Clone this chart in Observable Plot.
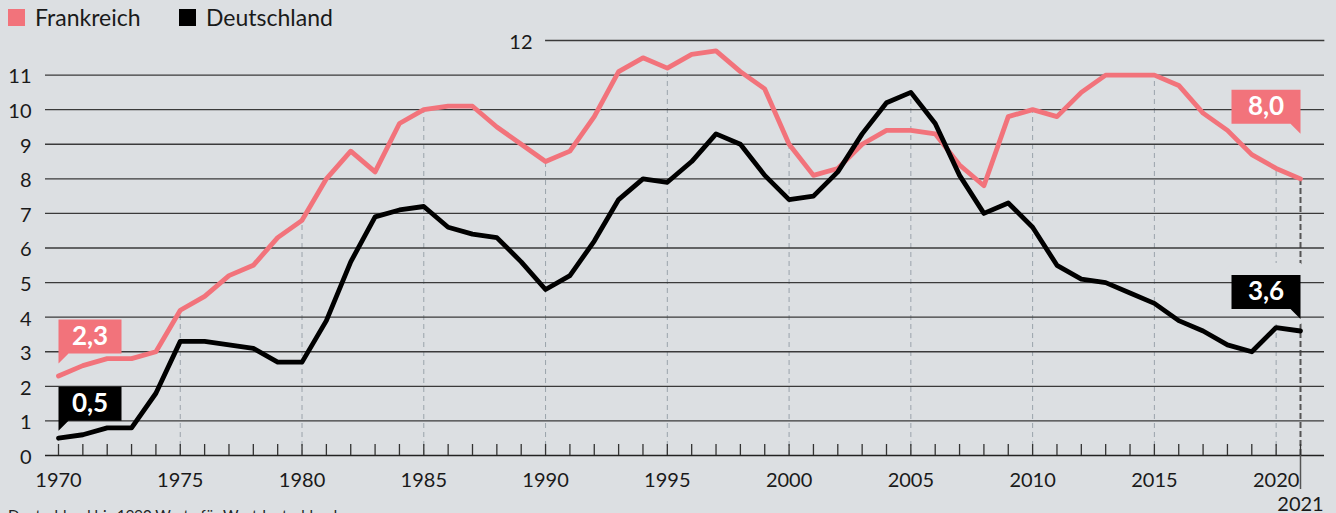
<!DOCTYPE html>
<html><head><meta charset="utf-8">
<script src="https://cdn.jsdelivr.net/npm/d3@7"></script>
<script src="https://cdn.jsdelivr.net/npm/@observablehq/plot@0.6"></script>
<style>
html,body{margin:0;padding:0;background:#dcdfe2;width:1336px;height:513px;overflow:hidden;font-family:Lato,sans-serif;}
#chart{position:absolute;left:0;top:0;}
#legend{position:absolute;top:0;left:0;height:34px;font-size:23px;color:#1a1a1a;}
.item{position:absolute;top:6px;line-height:23px;white-space:nowrap;}
.sw{position:absolute;width:17px;height:17px;top:9px;}
.caption{position:absolute;left:8px;top:508px;font-size:15px;line-height:15px;color:#222;white-space:nowrap;}
</style></head>
<body>
<div id="chart"></div>
<div id="legend"></div>
<div class="caption">Deutschland bis 1990 Werte für Westdeutschland</div>
<script>
// ---- data ----
const years = [1970,1971,1972,1973,1974,1975,1976,1977,1978,1979,
               1980,1981,1982,1983,1984,1985,1986,1987,1988,1989,
               1990,1991,1992,1993,1994,1995,1996,1997,1998,1999,
               2000,2001,2002,2003,2004,2005,2006,2007,2008,2009,
               2010,2011,2012,2013,2014,2015,2016,2017,2018,2019,
               2020,2021];
const france = [2.3,2.6,2.8,2.8,3.0,4.2,4.6,5.2,5.5,6.3,
                6.8,8.0,8.8,8.2,9.6,10.0,10.1,10.1,9.5,9.0,
                8.5,8.8,9.8,11.1,11.5,11.2,11.6,11.7,11.1,10.6,
                9.0,8.1,8.3,9.0,9.4,9.4,9.3,8.4,7.8,9.8,
                10.0,9.8,10.5,11.0,11.0,11.0,10.7,9.9,9.4,8.7,
                8.3,8.0];
const germany = [0.5,0.6,0.8,0.8,1.8,3.3,3.3,3.2,3.1,2.7,
                 2.7,3.9,5.6,6.9,7.1,7.2,6.6,6.4,6.3,5.6,
                 4.8,5.2,6.2,7.4,8.0,7.9,8.5,9.3,9.0,8.1,
                 7.4,7.5,8.2,9.3,10.2,10.5,9.6,8.1,7.0,7.3,
                 6.6,5.5,5.1,5.0,4.7,4.4,3.9,3.6,3.2,3.0,
                 3.7,3.6];
const seriesNames = ["Frankreich", "Deutschland"];
const seriesColors = ["#f2737b", "#000000"];
const yTicks = [0,1,2,3,4,5,6,7,8,9,10,11];
const yTopTick = 12;
const xLabelTicks = [1970,1975,1980,1985,1990,1995,2000,2005,2010,2015,2020];
const lastYearTick = 2021;
const topGridStartYear = 1990;
const gridEndYear = 2022;

// ---- table ----
const rows = years.map((year, i) => ({year, fr: france[i], de: germany[i]}));
const first = rows[0], last = rows[rows.length - 1];
const fmt = v => v.toFixed(1).replace(".", ",");
const bg = "#dcdfe2";

// legend (HTML)
const legend = document.getElementById("legend");
const legendX = [[8, 35], [179, 206]];
seriesNames.forEach((name, i) => {
  const sw = document.createElement("div");
  sw.className = "sw"; sw.style.left = legendX[i][0] + "px"; sw.style.background = seriesColors[i];
  const t = document.createElement("div");
  t.className = "item"; t.style.left = legendX[i][1] + "px"; t.textContent = name;
  legend.appendChild(sw); legend.appendChild(t);
});

// callout shape (box with pointer at its lower corner), origin = pointer tip
function callout(w, h, side) {
  return {draw(ctx) {
    const m = 10;
    ctx.moveTo(0, 0);
    ctx.lineTo(side * m, -m);
    ctx.lineTo(side * w, -m);
    ctx.lineTo(side * w, -m - h);
    ctx.lineTo(0, -m - h);
    ctx.closePath();
  }};
}
function label(datum, key, color, side, w, tipOffset, halo) {
  const h = 34;
  const out = [];
  if (halo) out.push(Plot.dot([datum], {x: "year", y: key, symbol: callout(w, h, side), fill: bg, stroke: bg, strokeWidth: 24, strokeLinejoin: "bevel", dy: -tipOffset}));
  out.push(Plot.dot([datum], {x: "year", y: key, symbol: callout(w, h, side), fill: color, stroke: "none", dy: -tipOffset}));
  out.push(Plot.text([datum], {x: "year", y: key, text: d => fmt(d[key]), fill: "white", fontWeight: "bold", fontSize: 26,
    textAnchor: "middle", lineAnchor: "middle", dx: side * w / 2, dy: -tipOffset - 10 - h / 2}));
  return out;
}
const fiveYearRows = rows.filter(d => xLabelTicks.includes(d.year) && d.year !== years[0]);

const chart = Plot.plot({
  width: 1336, height: 513,
  marginLeft: 45, marginRight: 12, marginTop: 30, marginBottom: 58,
  x: {domain: [years[0], lastYearTick], range: [58, 1300]},
  y: {domain: [0, yTopTick], range: [455, 40]},
  style: {background: "transparent", fontFamily: "Lato, sans-serif", overflow: "visible", color: "#1a1a1a"},
  marks: [
    Plot.ruleX(fiveYearRows, {x: "year", y1: 0, y2: d => Math.max(d.fr, d.de), stroke: "#9aa3ab", strokeWidth: 1, strokeDasharray: "5,4"}),
    Plot.ruleX([last], {x: "year", y1: 0, y2: "fr", stroke: "#555", strokeWidth: 2, strokeDasharray: "6,3"}),
    ...label(last, "de", seriesColors[1], -1, 69, 12, true).slice(0, 1),
    Plot.ruleY(yTicks.slice(1), {stroke: "#3a3a3a", strokeWidth: 1.3}),
    Plot.ruleY([yTopTick], {x1: topGridStartYear, x2: gridEndYear, stroke: "#3a3a3a", strokeWidth: 1.3}),
    Plot.text([yTopTick], {x: topGridStartYear, y: d => d, text: d => String(d), textAnchor: "end", dx: -13, dy: 2, fontSize: 20, fill: "#1a1a1a"}),
    Plot.ruleY([0], {stroke: "#222", strokeWidth: 1.6}),
    Plot.axisX({ticks: years, tickSize: 11, dy: -11, fill: "none", stroke: "#333", strokeWidth: 1.3}),
    Plot.axisX({ticks: [lastYearTick], tickSize: 34, fill: "none", stroke: "#555", strokeWidth: 1.5}),
    Plot.axisX({ticks: xLabelTicks, tickSize: 0, tickPadding: 17, tickFormat: "d", fontSize: 20, fill: "#1a1a1a", label: null}),
    Plot.axisX({ticks: [lastYearTick], tickSize: 0, tickPadding: 41, tickFormat: "d", fontSize: 20, fill: "#1a1a1a", label: null}),
    Plot.axisY({ticks: yTicks, tickSize: 0, tickPadding: 14, tickFormat: "d", fontSize: 20, fill: "#1a1a1a", label: null, dy: 2}),
    Plot.line(rows, {x: "year", y: "fr", stroke: seriesColors[0], strokeWidth: 4.8}),
    Plot.line(rows, {x: "year", y: "de", stroke: seriesColors[1], strokeWidth: 4.8}),
    ...label(first, "fr", seriesColors[0], 1, 63, 12.5, false),
    ...label(first, "de", seriesColors[1], 1, 63, 7.5, false),
    ...label(last, "fr", seriesColors[0], -1, 69, 45, false),
    ...label(last, "de", seriesColors[1], -1, 69, 12, false)
  ]
});
document.getElementById("chart").appendChild(chart);
</script>
</body></html>
